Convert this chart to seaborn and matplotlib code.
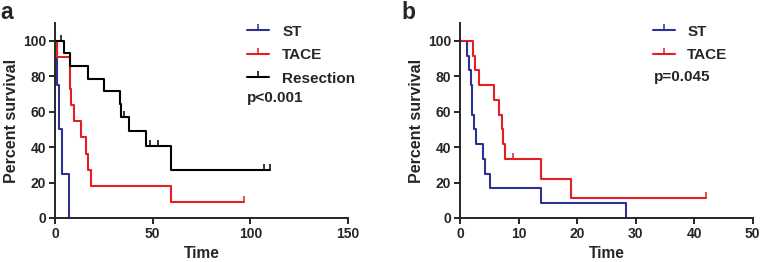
import numpy as np
import pandas as pd
import seaborn as sns
import matplotlib.pyplot as plt
from matplotlib.lines import Line2D

# survival times (event 1 = death, 0 = censored)
a_st_time = [1.0, 1.8, 3.5, 7.4]
a_st_event = [1, 1, 1, 1]
a_tace_time = [1.0, 7.5, 7.5, 8.2, 9.8, 13.4, 16.0, 16.8, 18.5, 59.4, 97.0]
a_tace_event = [1, 1, 1, 1, 1, 1, 1, 1, 1, 1, 0]
a_res_time = [2.9, 4.5, 7.5, 17.1, 25.3, 33.2, 33.6, 35.4, 37.9, 46.8, 48.8,
              52.9, 59.4, 106.8, 110.2]
a_res_event = [0, 1, 1, 1, 1, 1, 1, 0, 1, 1, 0, 0, 1, 0, 0]

b_st_time = [1.25, 1.6, 1.8, 2.05, 2.05, 2.4, 2.7, 4.0, 4.2, 5.2, 13.9, 28.3]
b_st_event = [1] * 12
b_tace_time = [2.3, 2.6, 3.2, 5.8, 6.6, 7.2, 7.4, 7.7, 9.1, 13.9, 18.9, 42.1]
b_tace_event = [1, 1, 1, 1, 1, 1, 1, 1, 0, 1, 1, 0]

BLUE = '#2e3192'
RED = '#e31e24'
BLACK = '#000000'


def km(times, events):
    pairs = sorted(zip(times, events), key=lambda p: (p[0], -p[1]))
    n = len(pairs)
    s = 100.0
    xs, ys, cx, cy = [0.0], [100.0], [], []
    for t, e in pairs:
        if e:
            s *= (n - 1) / n
            xs.append(t)
            ys.append(s)
        else:
            cx.append(t)
            cy.append(s)
        n -= 1
    if not pairs[-1][1]:
        xs.append(pairs[-1][0])
        ys.append(s)
    return xs, ys, cx, cy


sns.set_style('ticks')
plt.rcParams['font.family'] = ['Liberation Sans', 'DejaVu Sans']
plt.rcParams['font.weight'] = 'bold'

fig = plt.figure(figsize=(7.61, 2.62), dpi=100)
ax_a = fig.add_axes([0.0723, 0.168, 0.385, 0.744])
ax_b = fig.add_axes([0.6045, 0.168, 0.3846, 0.744])


def draw(ax, groups):
    for name, t, e, c in groups:
        xs, ys, cx, cy = km(t, e)
        df = pd.DataFrame({'x': xs, 'y': ys})
        sns.lineplot(data=df, x='x', y='y', ax=ax, color=c, lw=1.5,
                     drawstyle='steps-post', estimator=None, sort=False)
        if cx:
            ax.plot(cx, cy, ls='', marker=2, ms=4, mew=1.1, color=c)


draw(ax_a, [('ST', a_st_time, a_st_event, BLUE),
            ('TACE', a_tace_time, a_tace_event, RED),
            ('Resection', a_res_time, a_res_event, BLACK)])
draw(ax_b, [('ST', b_st_time, b_st_event, BLUE),
            ('TACE', b_tace_time, b_tace_event, RED)])

for ax, xmax, step in [(ax_a, 150, 50), (ax_b, 50, 10)]:
    ax.set_xlim(0, xmax)
    ax.set_ylim(0, 110)
    ax.set_xticks(np.arange(0, xmax + 1, step))
    ax.set_yticks(np.arange(0, 101, 20))
    ax.set_xlabel('Time', fontsize=11.2, fontweight='bold', labelpad=3.5)
    ax.set_ylabel('Percent survival', fontsize=11.5, fontweight='bold', labelpad=3)
    ax.tick_params(labelsize=10, width=1.4, length=4, direction='out', pad=2.5)
    for lab in ax.get_xticklabels() + ax.get_yticklabels():
        lab.set_fontweight('bold')
    sns.despine(ax=ax)
    for sp in ['left', 'bottom']:
        ax.spines[sp].set_linewidth(1.4)
    ax.spines['left'].set_bounds(0, 110)

h = lambda c: Line2D([], [], color=c, lw=1.5, marker=2, ms=4, mew=1.1)
leg_kw = dict(loc='upper left', frameon=False, numpoints=1, handlelength=1.44,
              handletextpad=0.83, labelspacing=0.62,
              prop={'size': 11, 'weight': 'bold'})
ax_a.legend([h(BLUE), h(RED), h(BLACK)], ['ST', 'TACE', 'Resection'],
            bbox_to_anchor=(0.61, 1.062), **leg_kw)
ax_a.text(0.655, 0.615, 'p<0.001', transform=ax_a.transAxes, fontsize=11,
          fontweight='bold', va='center')
ax_b.legend([h(BLUE), h(RED)], ['ST', 'TACE'],
            bbox_to_anchor=(0.611, 1.062), **leg_kw)
ax_b.text(0.663, 0.725, 'p=0.045', transform=ax_b.transAxes, fontsize=11,
          fontweight='bold', va='center')

fig.text(0.001, 1 - 19 / 262, 'a', fontsize=16.5, fontweight='bold', va='baseline')
fig.text(0.527, 1 - 19 / 262, 'b', fontsize=16.5, fontweight='bold', va='baseline')

fig.savefig('out.png', dpi=100)
